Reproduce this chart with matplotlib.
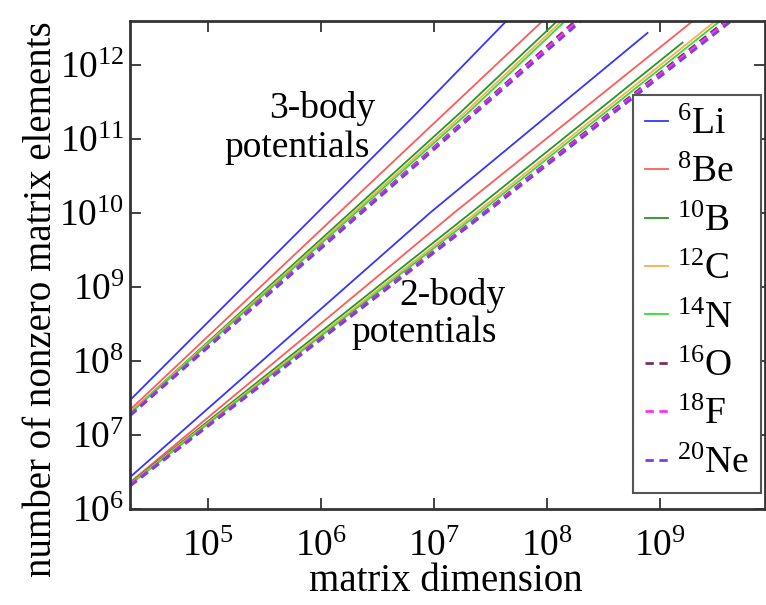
import numpy as np
import matplotlib
matplotlib.use('Agg')
import matplotlib.pyplot as plt

plt.rcParams['font.family'] = ['Liberation Serif', 'DejaVu Serif']
plt.rcParams['mathtext.fontset'] = 'custom'
plt.rcParams['mathtext.rm'] = 'Liberation Serif'
plt.rcParams['mathtext.it'] = 'Liberation Serif:italic'

# nuclei and line styles
nuclei = ['$^{6}$Li', '$^{8}$Be', '$^{10}$B', '$^{12}$C',
          '$^{14}$N', '$^{16}$O', '$^{18}$F', '$^{20}$Ne']
colors = ['#3535ff', '#ff5a5a', '#229922', '#ffaa55',
          '#33dd33', '#7a2f5e', '#ff33ee', '#7a3fe0']
dashed = [False, False, False, False, False, True, True, True]

# 3-body potentials: log10(dimension), log10(nonzero elements)
logdim_3b = [
    [4.31, 6.85, 7.64],
    [4.31, 7.097, 7.96],
    [4.31, 7.23, 8.09],
    [4.31, 7.27, 8.13],
    [4.31, 7.30, 8.16],
    [4.31, 7.345, 8.25],
    [4.31, 7.355, 8.27],
    [4.31, 7.37, 8.30],
]
lognnz_3b = [
    [7.47, 11.35, 12.59],
    [7.34, 11.35, 12.59],
    [7.30, 11.35, 12.59],
    [7.30, 11.35, 12.59],
    [7.29, 11.35, 12.59],
    [7.27, 11.35, 12.59],
    [7.27, 11.35, 12.59],
    [7.26, 11.35, 12.59],
]

# 2-body potentials
logdim_2b = [
    [4.31, 6.965, 8.89],
    [4.31, 7.177, 9.29],
    [4.31, 7.327, 9.20],
    [4.31, 7.37, 9.49],
    [4.31, 7.40, 9.53],
    [4.31, 7.44, 9.58],
    [4.31, 7.45, 9.60],
    [4.31, 7.46, 9.63],
]
lognnz_2b = [
    [6.43, 10.0, 12.43],
    [6.36, 10.0, 12.59],
    [6.35, 10.0, 12.30],
    [6.34, 10.0, 12.59],
    [6.33, 10.0, 12.59],
    [6.32, 10.0, 12.59],
    [6.32, 10.0, 12.59],
    [6.31, 10.0, 12.59],
]

fig = plt.figure(figsize=(7.66, 6.05), dpi=100)
ax = fig.add_axes([0.1697, 0.1587, 0.8290, 0.8066])

for i, name in enumerate(nuclei):
    ls = (0, (3, 2)) if dashed[i] else '-'
    lw = 2.0 if dashed[i] else 1.3
    ax.plot(10.0 ** np.array(logdim_3b[i]), 10.0 ** np.array(lognnz_3b[i]),
            color=colors[i], ls=ls, lw=lw)
    ax.plot(10.0 ** np.array(logdim_2b[i]), 10.0 ** np.array(lognnz_2b[i]),
            color=colors[i], ls=ls, lw=lw, label=name)

ax.set_xscale('log')
ax.set_yscale('log')
ax.set_xlim(2.04e4, 8.5e9)
ax.set_ylim(1e6, 3.9e12)
ax.set_xticks([1e5, 1e6, 1e7, 1e8, 1e9])
ax.set_yticks([1e6, 1e7, 1e8, 1e9, 1e10, 1e11, 1e12])
ax.minorticks_off()
ax.tick_params(direction='in', length=8, width=1.3, top=True, right=True,
               labelsize=27, color='#333333')
ax.tick_params(axis='x', pad=15)
ax.tick_params(axis='y', pad=4)
for s in ax.spines.values():
    s.set_linewidth(2.0)
    s.set_color('#333333')

ax.set_xlabel('matrix dimension', fontsize=28)
ax.set_ylabel('number of nonzero matrix elements', fontsize=28)
ax.xaxis.set_label_coords(0.498, -0.11)
ax.yaxis.set_label_coords(-0.11, 0.43)

ax.text(0.386, 0.801, '3-body', transform=ax.transAxes, ha='right',
        va='baseline', fontsize=27)
ax.text(0.378, 0.721, 'potentials', transform=ax.transAxes, ha='right',
        va='baseline', fontsize=27)
ax.text(0.591, 0.418, '2-body', transform=ax.transAxes, ha='right',
        va='baseline', fontsize=27)
ax.text(0.578, 0.342, 'potentials', transform=ax.transAxes, ha='right',
        va='baseline', fontsize=27)

leg = ax.legend(loc='upper left', bbox_to_anchor=(0.792, 0.848),
                borderaxespad=0, fontsize=27, handlelength=0.6,
                handletextpad=0.25, labelspacing=0.37, borderpad=0.33,
                fancybox=False, framealpha=1)
leg.get_frame().set_edgecolor('#555555')
leg.get_frame().set_linewidth(1.5)

fig.savefig('out.png', dpi=100)
